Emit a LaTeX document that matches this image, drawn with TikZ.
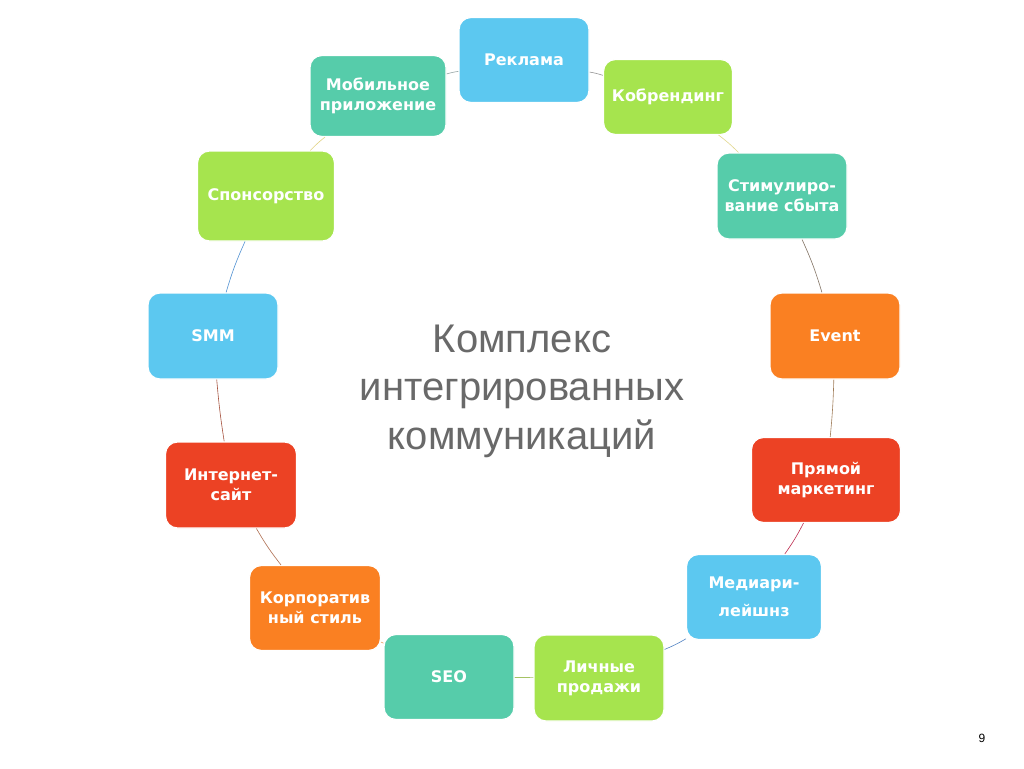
\documentclass[tikz,border=0pt]{standalone}
\usepackage{fontspec}
\setmainfont{DejaVu Sans}
\newfontfamily\titlefont{Liberation Sans}
\definecolor{ccyan}{RGB}{92,200,240}
\definecolor{cgreen}{RGB}{166,228,78}
\definecolor{cteal}{RGB}{86,204,170}
\definecolor{corange}{RGB}{250,128,34}
\definecolor{cred}{RGB}{236,66,36}
\definecolor{cgray}{RGB}{105,105,105}
\begin{document}
\begin{tikzpicture}[x=1pt,y=-1pt,
  box/.style={draw=white, line width=1.2pt, rounded corners=12pt, minimum width=130pt, minimum height=85pt,
     inner sep=2pt, text=white, align=center, font=\fontsize{16}{20}\selectfont\bfseries},
  link/.style={line width=0.6pt}]
\useasboundingbox[fill=white] (0,0) rectangle (1024,768);
\node[box, fill=ccyan] (rek) at (524,60) {Реклама};
\node[box, fill=cteal, minimum width=136pt, minimum height=81pt] (mob) at (378,96) {Мобильное\\приложение};
\node[box, fill=cgreen, minimum width=129pt, minimum height=75pt] (kob) at (668,97) {Кобрендинг};
\node[box, fill=cgreen, minimum width=137pt, minimum height=90pt] (spo) at (266,196) {Спонсорство};
\node[box, fill=cteal, minimum width=130pt, minimum height=86pt] (sti) at (782,196) {Стимулиро-\\вание сбыта};
\node[box, fill=ccyan, minimum height=86pt] (smm) at (213,336) {SMM};
\node[box, fill=corange, minimum height=86pt] (eve) at (835,336) {Event};
\node[box, fill=cred, minimum width=131pt, minimum height=86pt] (int) at (231,485) {Интернет-\\сайт};
\node[box, fill=cred, minimum width=149pt, minimum height=85pt] (pry) at (826,480) {Прямой\\маркетинг};
\node[box, fill=corange, minimum width=131pt, minimum height=85pt] (kor) at (315,608) {Корпоратив\\ный стиль};
\node[box, fill=ccyan, minimum width=135pt, minimum height=85pt, font=\fontsize{16}{28}\selectfont\bfseries] (med) at (754,597) {Медиари-\\лейшнз};
\node[box, fill=cteal, minimum height=85pt] (seo) at (449,677) {SEO};
\node[box, fill=cgreen, minimum height=86pt] (lic) at (599,678) {Личные\\продажи};
\node[text=cgray, align=center, font=\titlefont\fontsize{40}{48.5}\selectfont] (cen) at (522,391) {Комплекс\\интегрированных\\коммуникаций};
\node[font=\titlefont\fontsize{12}{14}\selectfont] (pg) at (982,738) {9};
\draw[link, draw={rgb,255:red,150;green,150;blue,150}] (rek) to[bend left=4] (kob);
\draw[link, draw={rgb,255:red,225;green,215;blue,140}] (kob) to[bend left=4] (sti);
\draw[link, draw={rgb,255:red,130;green,115;blue,100}] (sti) to[bend left=4] (eve);
\draw[link, draw={rgb,255:red,160;green,125;blue,90}] (eve) to[bend left=2] (pry);
\draw[link, draw={rgb,255:red,190;green,45;blue,80}] (pry) to[bend left=4] (med);
\draw[link, draw={rgb,255:red,80;green,130;blue,195}] (med) to[bend left=4] (lic);
\draw[link, draw={rgb,255:red,165;green,195;blue,100}] (lic) -- (seo);
\draw[link, draw={rgb,255:red,230;green,150;blue,80}] (seo) -- (kor);
\draw[link, draw={rgb,255:red,175;green,110;blue,80}] (kor) to[bend left=4] (int);
\draw[link, draw={rgb,255:red,165;green,80;blue,60}] (int) to[bend left=2] (smm);
\draw[link, draw={rgb,255:red,80;green,145;blue,210}] (smm) to[bend left=4] (spo);
\draw[link, draw={rgb,255:red,225;green,210;blue,130}] (spo) to[bend left=4] (mob);
\draw[link, draw={rgb,255:red,150;green,165;blue,165}] (mob) to[bend left=4] (rek);
\end{tikzpicture}
\end{document}
